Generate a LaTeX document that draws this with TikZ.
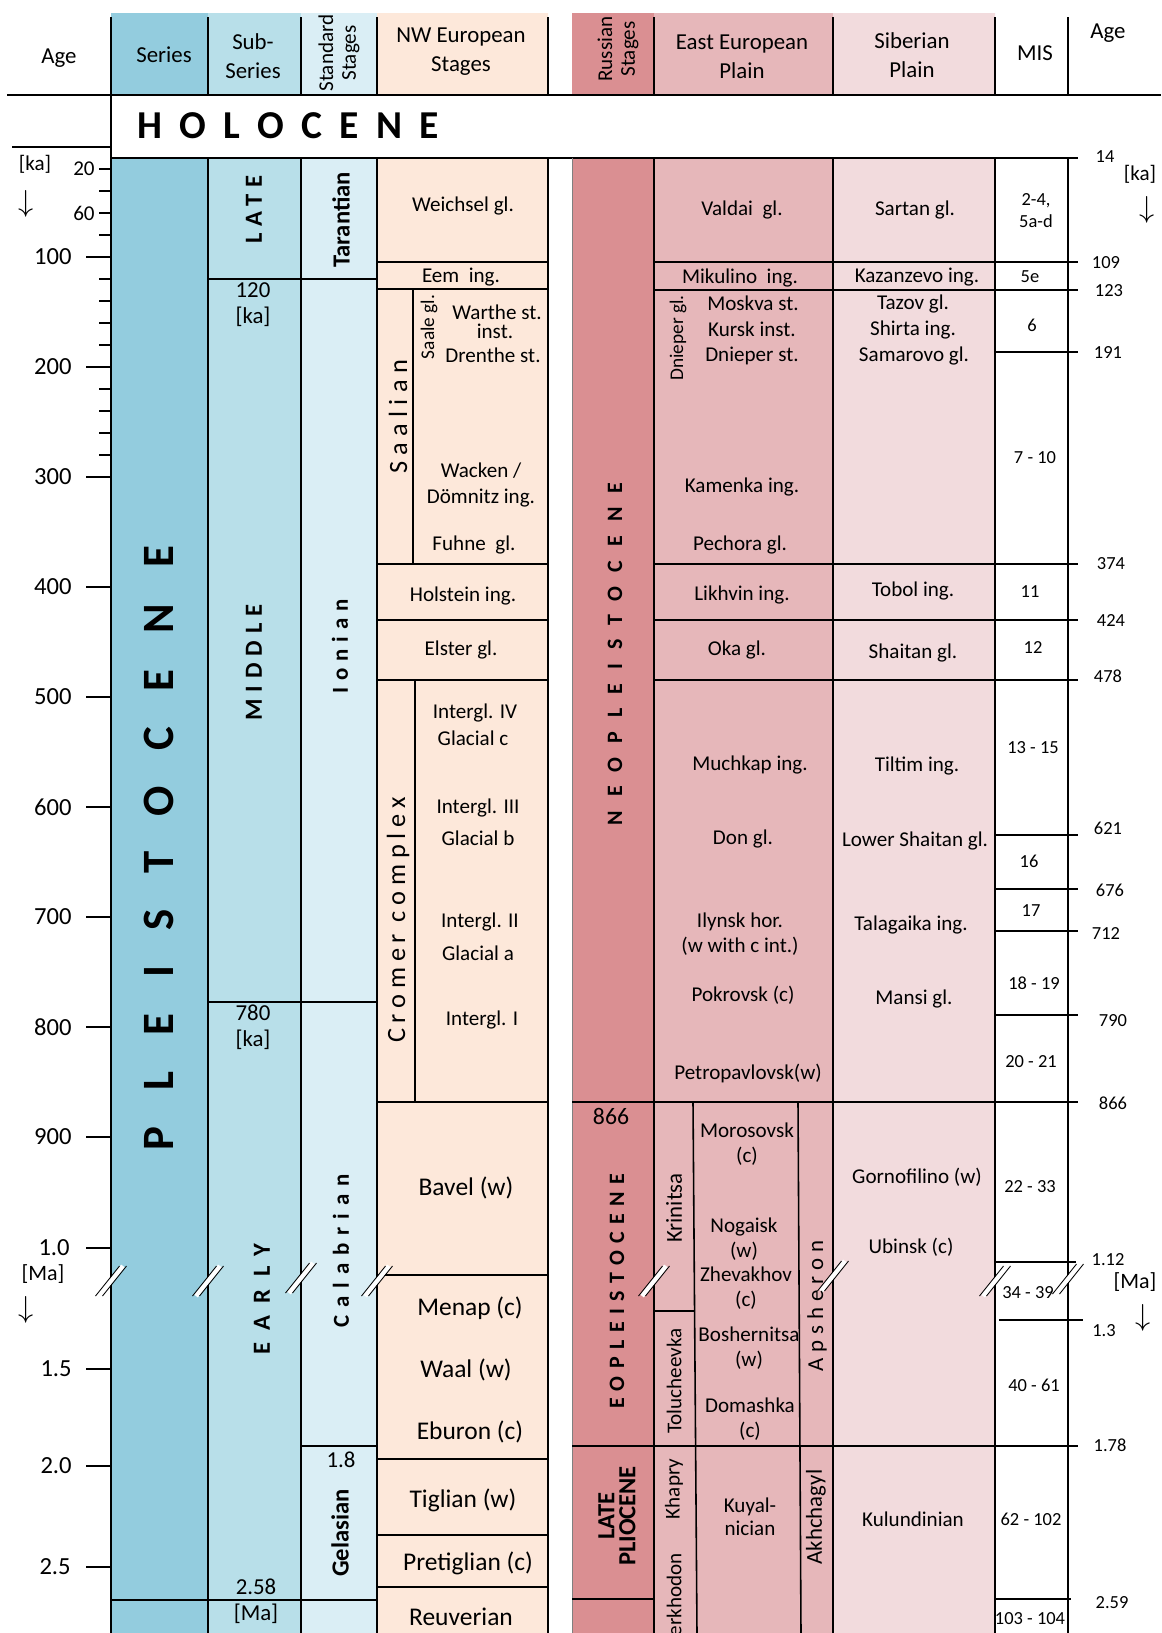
\documentclass[tikz,border=0pt]{standalone}
\usepackage{fontspec}
\setmainfont{Carlito}

\definecolor{seriesblue}{RGB}{147,204,222}
\definecolor{subblue}{RGB}{184,223,233}
\definecolor{stageblue}{RGB}{218,238,245}
\definecolor{nwpeach}{RGB}{253,232,218}
\definecolor{rusred}{RGB}{218,143,146}
\definecolor{eeppink}{RGB}{230,183,186}
\definecolor{sibpink}{RGB}{242,219,221}

% letter spaced text, last gap taken back
\newcommand{\spaced}[2]{{\addfontfeatures{LetterSpace=#1}#2\kern-\dimexpr #1em/100\relax}}
% break mark on a column rule
\newcommand{\brk}[2]{%
  \draw[white,line width=2.6pt] (#1-12,#2+15) -- (#1+12,#2-15);
  \draw[line width=0.5pt] (#1-15.5,#2+15) -- (#1+8.5,#2-15);
  \draw[line width=0.5pt] (#1-8.5,#2+15) -- (#1+15.5,#2-15);}

\begin{document}
\begin{tikzpicture}[x=0.02cm,y=-0.02cm,
  chartline/.style={line width=0.9pt},
  lbl/.style={inner sep=0pt,align=center,font=\fontsize{12}{14.5}\selectfont},
  lblbig/.style={inner sep=0pt,align=center,font=\fontsize{14.5}{16}\selectfont},
  hdr/.style={inner sep=0pt,align=center,font=\fontsize{13}{16.5}\selectfont},
  num/.style={inner sep=0pt,align=center,font=\fontsize{10.5}{12.5}\selectfont},
  agelbl/.style={inner sep=0pt,anchor=east,font=\fontsize{14}{16}\selectfont},
  downarrow/.style={inner sep=0pt,font=\fontsize{16}{16}\selectfont},
  vert/.style={inner sep=0pt,align=center,rotate=90},
  boldvert/.style={vert,font=\bfseries\fontsize{13}{15}\selectfont}]

\useasboundingbox (0,0) rectangle (1161,1633);
\clip (0,0) rectangle (1161,1633);

% column colours
\fill[seriesblue] (111,13) rectangle (208,95) (111,158) rectangle (208,1633);
\fill[subblue] (208,13) rectangle (301,95) (208,158) rectangle (301,1633);
\fill[stageblue] (301,13) rectangle (377,95) (301,158) rectangle (377,1633);
\fill[nwpeach] (377,13) rectangle (548,95) (377,158) rectangle (548,1633);
\fill[rusred] (572,13) rectangle (654,95) (572,158) rectangle (654,1633);
\fill[eeppink] (654,13) rectangle (833,95) (654,158) rectangle (833,1633);
\fill[sibpink] (833,13) rectangle (995,95) (833,158) rectangle (995,1633);

% header and holocene rules
\draw[chartline] (7,95) -- (1161,95);
\draw[chartline] (12,147) -- (111,147);
\draw[chartline] (111,158) -- (1078,158);

% column rules
\draw[chartline] (111,17) -- (111,1633);
\draw[chartline] (208,17) -- (208,95) (208,158) -- (208,1633);
\draw[chartline] (301,17) -- (301,95) (301,158) -- (301,1633);
\draw[chartline] (377,17) -- (377,95) (377,158) -- (377,1633);
\draw[chartline] (548,17) -- (548,95) (548,158) -- (548,1633);
\draw[gray,line width=0.4pt] (572,158) -- (572,1633);
\draw[chartline] (654,17) -- (654,95) (654,158) -- (654,1633);
\draw[chartline] (833,17) -- (833,95) (833,158) -- (833,1633);
\draw[chartline] (995,17) -- (995,95) (995,158) -- (995,1633);
\draw[chartline] (1068,17) -- (1068,95) (1068,158) -- (1068,1633);

% series, sub-series and standard stages
\draw[chartline] (208,279) -- (377,279);
\draw[chartline] (208,1002) -- (377,1002);
\draw[chartline] (301,1446) -- (377,1446);
\draw[chartline] (111,1600) -- (377,1600);

% NW european stages
\draw[chartline] (377,262) -- (548,262);
\draw[chartline] (377,289) -- (548,289);
\draw[chartline] (413,289) -- (413,564);
\draw[chartline] (377,564) -- (548,564);
\draw[chartline] (377,620) -- (548,620);
\draw[chartline] (377,680) -- (548,680);
\draw[chartline] (415,680) -- (415,1102);
\draw[chartline] (377,1102) -- (548,1102);
\draw[chartline] (377,1275) -- (548,1275);
\draw[chartline] (377,1459) -- (548,1459);
\draw[chartline] (377,1535) -- (548,1535);
\draw[chartline] (377,1587) -- (548,1587);

% russian, plains and MIS
\draw[chartline] (654,262) -- (1078,262);
\draw[chartline] (654,290) -- (1078,290);
\draw[chartline] (995,352) -- (1078,352);
\draw[chartline] (654,564) -- (1078,564);
\draw[chartline] (654,620) -- (1078,620);
\draw[chartline] (654,680) -- (1078,680);
\draw[chartline] (995,835) -- (1078,835);
\draw[chartline] (995,889) -- (1078,889);
\draw[chartline] (995,931) -- (1078,931);
\draw[chartline] (995,1015) -- (1078,1015);
\draw[chartline] (572,1102) -- (1078,1102);
\draw[chartline] (995,1262) -- (1076,1262);
\draw[chartline] (999,1320) -- (1083,1320);
\draw[chartline] (572,1446) -- (1078,1446);
\draw[chartline] (572,1599) -- (654,1599);
\draw[chartline] (995,1599) -- (1071,1599);
\draw[chartline] (693,1102) -- (697,1633);
\draw[chartline] (798,1102) -- (801,1633);
\draw[chartline] (654,1311) -- (694,1311);

% age axis ticks
\draw[chartline] (99,169) -- (111,169) (99,191) -- (111,191) (99,213) -- (111,213)
  (99,235) -- (111,235) (99,279) -- (111,279) (99,301) -- (111,301)
  (99,323) -- (111,323) (99,345) -- (111,345) (99,389) -- (111,389)
  (99,411) -- (111,411) (99,433) -- (111,433) (99,455) -- (111,455);
\draw[chartline] (86,257) -- (111,257) (86,367) -- (111,367) (86,477) -- (111,477)
  (86,587) -- (111,587) (86,697) -- (111,697) (86,807) -- (111,807)
  (86,917) -- (111,917) (86,1027) -- (111,1027) (86,1137) -- (111,1137)
  (86,1248) -- (111,1248) (86,1369) -- (111,1369) (86,1466) -- (111,1466)
  (86,1567) -- (111,1567);

% break marks
\brk{111}{1281}
\brk{208}{1281}
\brk{301}{1278}
\brk{377}{1281}
\brk{654}{1281}
\brk{833}{1276}
\brk{995}{1281}
\brk{1068}{1279}

% header
\node[hdr] (hAge) at (59,58) {Age};
\node[hdr] (hSeries) at (164,55) {Series};
\node[hdr] (hSub) at (253,56) {Sub-\\Series};
\node[vert,font=\fontsize{12}{13}\selectfont] (hStd) at (339,53) {Standard\\Stages};
\node[hdr] (hNW) at (461,52) {NW European\\Stages};
\node[vert,font=\fontsize{12}{13}\selectfont] (hRus) at (618,49) {Russian\\Stages};
\node[hdr] (hEEP) at (742,57) {East European\\Plain};
\node[hdr] (hSib) at (912,55) {Siberian\\Plain};
\node[hdr] (hMIS) at (1035,53) {MIS};
\node[hdr] (hAgeR) at (1108,33) {Age};

\node[inner sep=0pt,anchor=west,font=\bfseries\fontsize{22.5}{24}\selectfont] (holocene) at (137,126) {\spaced{44}{HOLOCENE}};

% left age axis
\node[lbl] (kaL) at (35,164) {[ka]};
\node[downarrow] (kaLarrow) at (26,204) {$\downarrow$};
\node[agelbl,font=\fontsize{12}{14}\selectfont] (a20) at (95,169) {20};
\node[agelbl,font=\fontsize{12}{14}\selectfont] (a60) at (95,213) {60};
\node[agelbl] (a100) at (72,257) {100};
\node[agelbl] (a200) at (72,367) {200};
\node[agelbl] (a300) at (72,477) {300};
\node[agelbl] (a400) at (72,587) {400};
\node[agelbl] (a500) at (72,697) {500};
\node[agelbl] (a600) at (72,807) {600};
\node[agelbl] (a700) at (72,917) {700};
\node[agelbl] (a800) at (72,1027) {800};
\node[agelbl] (a900) at (72,1137) {900};
\node[agelbl] (a1p0) at (70,1248) {1.0};
\node[agelbl] (a1p5) at (72,1369) {1.5};
\node[agelbl] (a2p0) at (72,1466) {2.0};
\node[agelbl] (a2p5) at (71,1567) {2.5};
\node[lbl,font=\fontsize{12.5}{14}\selectfont] (maL) at (43,1274) {[Ma]};
\node[downarrow] (maLarrow) at (26,1310) {$\downarrow$};

% series and sub-series
\node[vert,font=\bfseries\fontsize{25.5}{28}\selectfont] (pleistocene) at (159,866) {\spaced{80}{PLEISTOCENE}};
\node[boldvert,font=\bfseries\fontsize{14}{15}\selectfont] (late) at (254,213) {\spaced{27}{LATE}};
\node[lbl,font=\fontsize{13}{14.7}\selectfont] (b120) at (253,305) {120\\{[ka]}};
\node[boldvert,font=\bfseries\fontsize{14}{15}\selectfont] (middle) at (254,666) {\spaced{28}{MIDDLE}};
\node[lbl,font=\fontsize{13}{14.7}\selectfont] (b780) at (253,1027) {780\\{[ka]}};
\node[boldvert,font=\bfseries\fontsize{14}{15}\selectfont] (early) at (262,1305) {\spaced{50}{EARLY}};
\node[lbl,font=\fontsize{13}{14.7}\selectfont] (b258) at (256,1601) {2.58\\{[Ma]}};

% standard stages
\node[vert,font=\bfseries\fontsize{14}{16}\selectfont] (tarantian) at (341,220) {Tarantian};
\node[boldvert] (ionian) at (340,650) {\spaced{30}{Ionian}};
\node[boldvert] (calabrian) at (341,1255) {\spaced{35}{Calabrian}};
\node[lbl,font=\fontsize{13}{15}\selectfont] (b18) at (341,1460) {1.8};
\node[vert,font=\bfseries\fontsize{14}{16}\selectfont] (gelasian) at (340,1533) {Gelasian};

% NW european stages
\node[lbl] (weichsel) at (463,206) {Weichsel gl.};
\node[lbl] (eem) at (461,277) {Eem~ ing.};
\node[vert,font=\fontsize{15}{17}\selectfont] (saalian) at (398,420) {\spaced{24}{Saalian}};
\node[vert,font=\fontsize{11}{13}\selectfont] (saalegl) at (429,327) {Saale gl.};
\node[lbl] (warthe) at (497,312) {Warthe st.};
\node[lbl] (inst) at (495,331) {inst.};
\node[lbl] (drenthe) at (493,355) {Drenthe st.};
\node[lbl,font=\fontsize{12}{15}\selectfont] (wacken) at (481,485) {Wacken /\\Dömnitz ing.};
\node[lbl] (fuhne) at (474,545) {Fuhne~ gl.};
\node[lbl] (holstein) at (463,596) {Holstein ing.};
\node[lbl] (elster) at (461,650) {Elster gl.};
\node[vert,font=\fontsize{15}{17}\selectfont] (cromer) at (398,923) {\spaced{22}{Cromer complex}};
\node[lbl] (intIV) at (475,713) {Intergl. IV};
\node[lbl] (glacc) at (473,738) {Glacial c};
\node[lbl] (intIII) at (478,808) {Intergl. III};
\node[lbl] (glacb) at (478,838) {Glacial b};
\node[lbl] (intII) at (480,922) {Intergl. II};
\node[lbl] (glaca) at (478,953) {Glacial a};
\node[lbl] (intI) at (482,1020) {Intergl. I};
\node[lblbig] (bavel) at (466,1188) {Bavel (w)};
\node[lblbig] (menap) at (470,1308) {Menap (c)};
\node[lblbig] (waal) at (466,1370) {Waal (w)};
\node[lblbig] (eburon) at (470,1432) {Eburon (c)};
\node[lblbig] (tiglian) at (463,1500) {Tiglian (w)};
\node[lblbig] (pretiglian) at (468,1563) {Pretiglian (c)};
\node[lblbig] (reuverian) at (461,1617) {Reuverian};

% russian stages
\node[vert,font=\bfseries\fontsize{12.5}{14}\selectfont] (neopl) at (615,661) {\spaced{64}{NEOPLEISTOCENE}};
\node[lbl,font=\fontsize{13.5}{15}\selectfont] (b866) at (611,1116) {866};
\node[vert,font=\bfseries\fontsize{12.5}{14}\selectfont] (eopl) at (617,1295) {\spaced{34}{EOPLEISTOCENE}};
\node[vert,font=\bfseries\fontsize{14}{12}\selectfont] (latepl) at (617,1516) {LATE\\PLIOCENE};

% east european plain
\node[lbl] (valdai) at (742,210) {Valdai~ gl.};
\node[lbl] (mikulino) at (740,278) {Mikulino~ ing.};
\node[vert,font=\fontsize{11}{13}\selectfont] (dniepergl) at (678,338) {Dnieper gl.};
\node[lbl] (moskva) at (753,303) {Moskva st.};
\node[lbl] (kursk) at (752,329) {Kursk inst.};
\node[lbl] (dnieperst) at (752,356) {Dnieper st.};
\node[lbl] (kamenka) at (742,487) {Kamenka ing.};
\node[lbl] (pechora) at (740,545) {Pechora gl.};
\node[lbl] (likhvin) at (742,595) {Likhvin ing.};
\node[lbl] (oka) at (737,650) {Oka gl.};
\node[lbl] (muchkap) at (750,765) {Muchkap ing.};
\node[lbl] (don) at (743,839) {Don gl.};
\node[lbl] (ilynsk) at (740,934) {Ilynsk hor.\\(w with c int.)};
\node[lbl] (pokrovsk) at (743,995) {Pokrovsk (c)};
\node[lbl] (petropavlovsk) at (748,1073) {Petropavlovsk(w)};
\node[vert,font=\fontsize{13}{15}\selectfont] (krinitsa) at (674,1208) {Krinitsa};
\node[vert,font=\fontsize{12}{14}\selectfont] (tolucheevka) at (674,1381) {Tolucheevka};
\node[lbl] (morosovsk) at (747,1144) {Morosovsk\\(c)};
\node[lbl] (nogaisk) at (744,1239) {Nogaisk\\(w)};
\node[lbl] (zhevakhov) at (746,1288) {Zhevakhov\\(c)};
\node[lbl] (boshernitsa) at (749,1348) {Boshernitsa\\(w)};
\node[lbl] (domashka) at (750,1419) {Domashka\\(c)};
\node[vert,font=\fontsize{13}{15}\selectfont] (apsheron) at (817,1309) {\spaced{26}{Apsheron}};
\node[vert,font=\fontsize{12}{14}\selectfont] (khapry) at (674,1489) {Khapry};
\node[vert,font=\fontsize{12}{14}\selectfont] (verkhodon) at (674,1600) {Verkhodon};
\node[lbl,font=\fontsize{12}{13}\selectfont] (kuyal) at (750,1517) {Kuyal-\\nician};
\node[vert,font=\fontsize{13}{15}\selectfont] (akhchagyl) at (816,1517) {Akhchagyl};

% siberian plain
\node[lbl] (sartan) at (915,210) {Sartan gl.};
\node[lbl] (kazanzevo) at (917,277) {Kazanzevo ing.};
\node[lbl] (tazov) at (913,304) {Tazov gl.};
\node[lbl] (shirta) at (913,330) {Shirta ing.};
\node[lbl] (samarovo) at (914,356) {Samarovo gl.};
\node[lbl] (tobol) at (913,591) {Tobol ing.};
\node[lbl] (shaitan) at (913,653) {Shaitan gl.};
\node[lbl] (tiltim) at (917,766) {Tiltim ing.};
\node[lbl] (lowershaitan) at (915,841) {Lower Shaitan gl.};
\node[lbl] (talagaika) at (911,925) {Talagaika ing.};
\node[lbl] (mansi) at (914,999) {Mansi gl.};
\node[lbl] (gornofilino) at (917,1177) {Gornofilino (w)};
\node[lbl] (ubinsk) at (911,1247) {Ubinsk (c)};
\node[lbl] (kulundinian) at (913,1519) {Kulundinian};

% MIS
\node[num] (mis2) at (1036,211) {2-4,\\5a-d};
\node[num] (mis5e) at (1030,277) {5e};
\node[num] (mis6) at (1032,325) {6};
\node[num] (mis7) at (1035,458) {7 - 10};
\node[num] (mis11) at (1030,592) {11};
\node[num] (mis12) at (1033,648) {12};
\node[num] (mis13) at (1033,748) {13 - 15};
\node[num] (mis16) at (1029,861) {16};
\node[num] (mis17) at (1031,911) {17};
\node[num] (mis18) at (1034,983) {18 - 19};
\node[num] (mis20) at (1031,1062) {20 - 21};
\node[num] (mis22) at (1030,1187) {22 - 33};
\node[num] (mis34) at (1028,1293) {34 - 39};
\node[num] (mis40) at (1034,1385) {40 - 61};
\node[num] (mis62) at (1031,1519) {62 - 102};
\node[num] (mis103) at (1030,1619) {103 - 104};

% right age axis
\node[num] (r14) at (1105,157) {14};
\node[lbl] (kaR) at (1140,174) {[ka]};
\node[downarrow] (kaRarrow) at (1147,210) {$\downarrow$};
\node[num] (r109) at (1106,263) {109};
\node[num] (r123) at (1109,291) {123};
\node[num] (r191) at (1108,353) {191};
\node[num] (r374) at (1111,564) {374};
\node[num] (r424) at (1111,621) {424};
\node[num] (r478) at (1108,676) {478};
\node[num] (r621) at (1108,828) {621};
\node[num] (r676) at (1110,890) {676};
\node[num] (r712) at (1106,934) {712};
\node[num] (r790) at (1113,1021) {790};
\node[num] (r866) at (1113,1103) {866};
\node[num] (r112) at (1108,1260) {1.12};
\node[lbl,font=\fontsize{12.5}{14}\selectfont] (maR) at (1135,1282) {[Ma]};
\node[downarrow] (maRarrow) at (1143,1318) {$\downarrow$};
\node[num] (r13) at (1104,1331) {1.3};
\node[num] (r178) at (1110,1445) {1.78};
\node[num] (r259) at (1112,1603) {2.59};
\end{tikzpicture}
\end{document}
